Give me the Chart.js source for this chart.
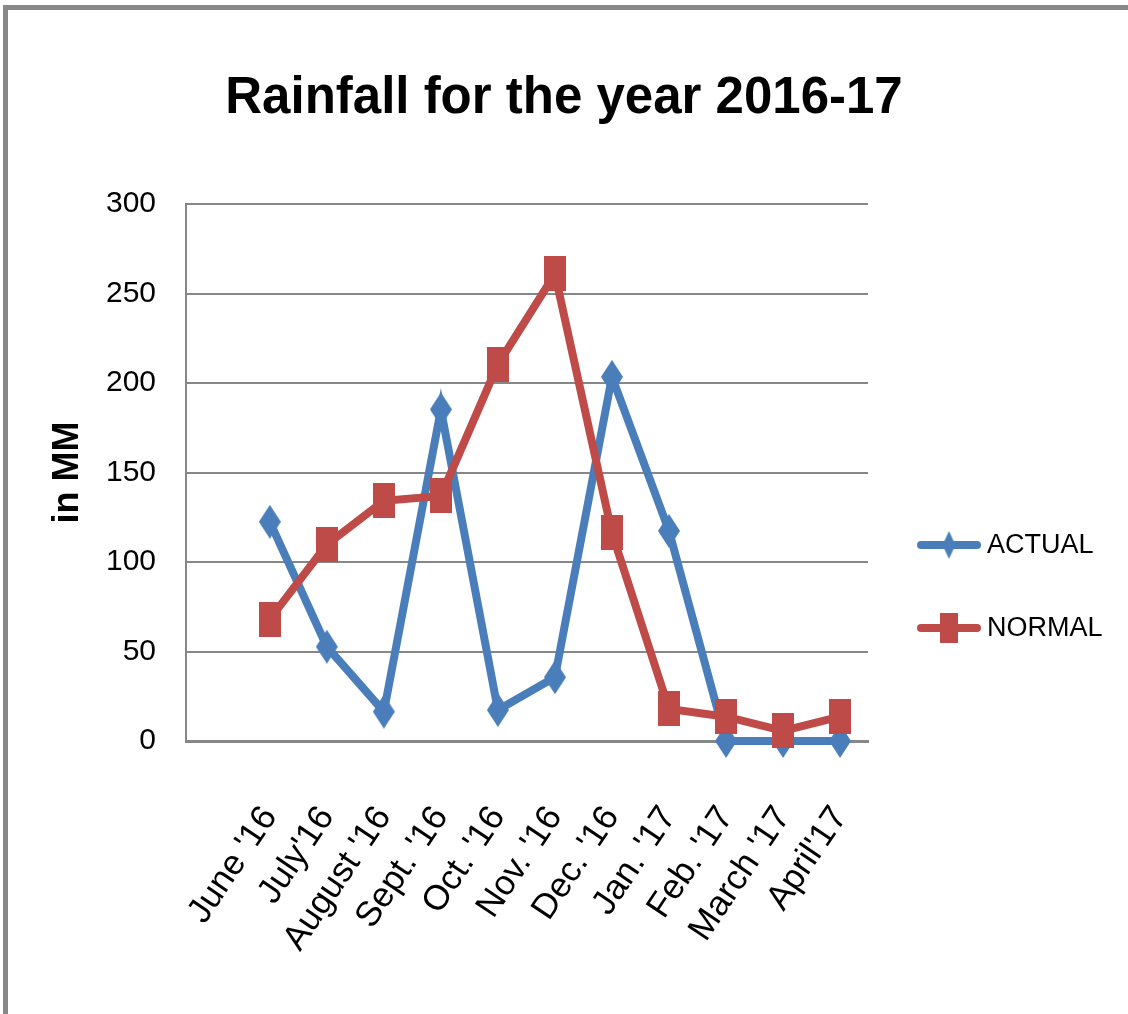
<!DOCTYPE html>
<html lang="en">
<head>
    <meta charset="UTF-8">
    <title>Rainfall for the year 2016-17</title>
    <script src="https://cdn.jsdelivr.net/npm/chart.js"></script>
    <style>
        body { margin: 0; background: #fff; }
        #frame {
            position: absolute; left: 3px; top: 5px; width: 1125px; height: 1009px;
            border-left: 5px solid #888; border-top: 5px solid #888; box-sizing: border-box;
        }
        #rainChart { position: absolute; left: 0; top: 0; }
    </style>
</head>
<body>
    <div id="frame"></div>
    <canvas id="rainChart" width="1128" height="1014"></canvas>

    <script>
        // Datos (mm)
        const months = ["June '16", "July'16", "August '16", "Sept. '16", "Oct. '16", "Nov. '16",
                        "Dec. '16", "Jan. '17", "Feb. '17", "March '17", "April'17"];
        const actual = [122.5, 52.7, 16.4, 185.3, 17.3, 35.6, 203.5, 117.4, 0, 0, 0];
        const normal = [68.1, 109.8, 134.2, 137.0, 210.5, 261.1, 116.3, 17.9, 13.6, 5.6, 13.6];
        const yTicks = [0, 50, 100, 150, 200, 250, 300];

        const BLUE = '#4A7EBB';
        const RED = '#BE4B48';
        const FONT = "'Liberation Sans', Arial, sans-serif";

        // Marcadores estirados como en la imagen original
        function makeMarker(shape, w, h, color) {
            let c = document.createElement('canvas');
            c.width = w; c.height = h;
            let g = c.getContext('2d');
            g.fillStyle = color;
            if (shape === 'diamond') {
                g.beginPath();
                g.moveTo(w / 2, 0); g.lineTo(w, h / 2); g.lineTo(w / 2, h); g.lineTo(0, h / 2);
                g.closePath(); g.fill();
            } else {
                g.fillRect(0, 0, w, h);
            }
            return c;
        }

        const diamond = makeMarker('diamond', 22, 34, BLUE);
        const square = makeMarker('rect', 22, 35, RED);
        const legendMarks = [makeMarker('diamond', 13, 28, BLUE), makeMarker('rect', 18, 30, RED)];

        // Leyenda dibujada a mano (línea + marcador + texto)
        const sideLegend = {
            id: 'sideLegend',
            afterDraw(chart) {
                let ctx = chart.ctx;
                let x0 = chart.chartArea.right + 50;
                chart.data.datasets.forEach((ds, i) => {
                    let y = 545 + i * 83;
                    ctx.save();
                    ctx.strokeStyle = ds.borderColor;
                    ctx.lineWidth = 8;
                    ctx.lineCap = 'round';
                    ctx.beginPath();
                    ctx.moveTo(x0 + 3, y); ctx.lineTo(x0 + 59, y);
                    ctx.stroke();
                    let m = legendMarks[i];
                    ctx.drawImage(m, x0 + 31 - m.width / 2, y - m.height / 2);
                    ctx.fillStyle = '#000';
                    ctx.font = '27px ' + FONT;
                    ctx.textBaseline = 'middle';
                    ctx.fillText(ds.label, x0 + 69, y + 1);
                    ctx.restore();
                });
            }
        };

        new Chart(document.getElementById('rainChart'), {
            type: 'line',
            data: {
                datasets: [{
                    label: 'ACTUAL',
                    data: actual.map((v, i) => ({ x: i, y: v })),
                    borderColor: BLUE,
                    backgroundColor: BLUE,
                    borderWidth: 8,
                    pointStyle: diamond,
                    tension: 0,
                    clip: false,
                    order: 2
                }, {
                    label: 'NORMAL',
                    data: normal.map((v, i) => ({ x: i, y: v })),
                    borderColor: RED,
                    backgroundColor: RED,
                    borderWidth: 8,
                    pointStyle: square,
                    tension: 0,
                    clip: false,
                    order: 1
                }]
            },
            options: {
                responsive: false,
                animation: false,
                layout: { padding: 0 },
                plugins: {
                    legend: { display: false },
                    tooltip: { enabled: false },
                    title: {
                        display: true,
                        text: 'Rainfall for the year 2016-17',
                        color: '#000',
                        font: { family: FONT, size: 51, weight: 'bold' },
                        padding: { top: 68, bottom: 75 }
                    }
                },
                scales: {
                    x: {
                        type: 'linear',
                        min: -1.47,
                        max: 10.49,
                        afterBuildTicks: (scale) => { scale.ticks = months.map((m, i) => ({ value: i })); },
                        afterFit: (scale) => { scale.height = 273; },
                        grid: { display: false },
                        border: { color: '#878787', width: 3 },
                        ticks: {
                            autoSkip: false,
                            minRotation: 56,
                            maxRotation: 56,
                            padding: 50,
                            color: '#000',
                            font: { family: FONT, size: 35 },
                            callback: (value) => months[value]
                        }
                    },
                    y: {
                        min: 0,
                        max: 300,
                        afterBuildTicks: (scale) => { scale.ticks = yTicks.map(v => ({ value: v })); },
                        afterFit: (scale) => { scale.width = 186; },
                        grid: { color: '#878787', lineWidth: 2, drawTicks: false },
                        border: { color: '#878787', width: 2 },
                        ticks: {
                            padding: 30,
                            color: '#000',
                            font: { family: FONT, size: 30 }
                        },
                        title: {
                            display: true,
                            text: 'in MM',
                            color: '#000',
                            font: { family: FONT, size: 36, weight: 'bold' },
                            padding: { top: 46, bottom: 0 }
                        }
                    },
                    // eje vacío a la derecha: reserva el hueco de la leyenda
                    legendSpace: {
                        type: 'linear',
                        position: 'right',
                        min: 0,
                        max: 1,
                        afterFit: (scale) => { scale.width = 260; },
                        grid: { display: false },
                        border: { display: false },
                        ticks: { display: false }
                    }
                }
            },
            plugins: [sideLegend]
        });
    </script>
</body>
</html>
